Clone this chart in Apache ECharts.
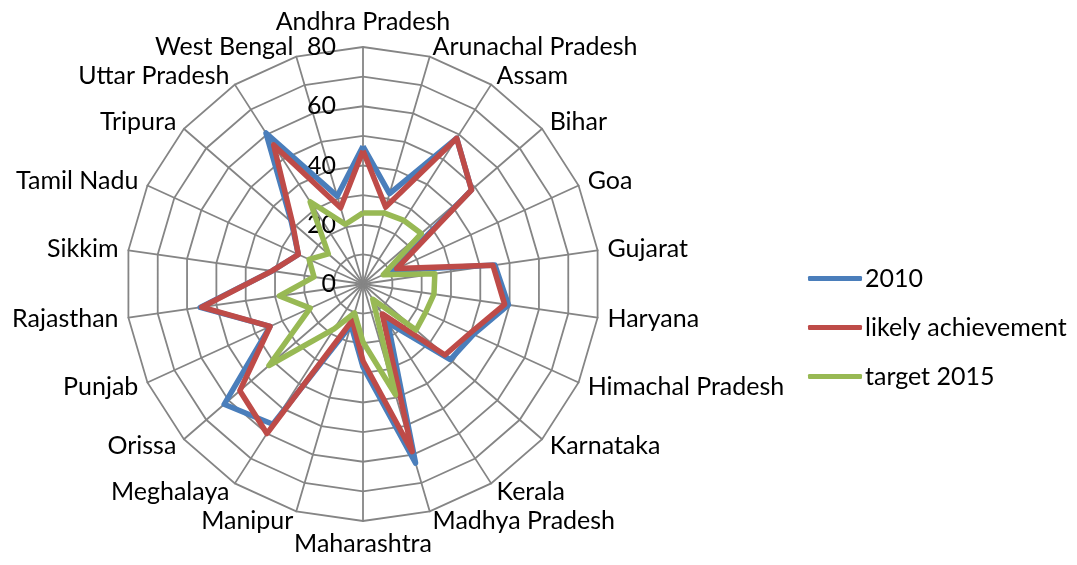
<!DOCTYPE html>
<html>
<head>
<meta charset="utf-8">
<script src="https://cdn.jsdelivr.net/npm/echarts@6/dist/echarts.min.js"></script>
<style>
  html, body { margin: 0; padding: 0; background: #fff; }
  #chart { width: 1077px; height: 565px; }
</style>
</head>
<body>
<div id="chart"></div>
<script>
const states = ['Andhra Pradesh','Arunachal Pradesh','Assam','Bihar','Goa','Gujarat','Haryana','Himachal Pradesh','Karnataka','Kerala','Madhya Pradesh','Maharashtra','Manipur','Meghalaya','Orissa','Punjab','Rajasthan','Sikkim','Tamil Nadu','Tripura','Uttar Pradesh','West Bengal'];
const values2010   = [46.5, 31.8, 58.5, 48.5, 11, 45, 49.6, 41, 39, 15.5, 63, 28, 14.4, 56.3, 62, 34.5, 55.5, 31, 24, 32, 60.6, 30.9];
const likelyAch    = [45, 27.1, 58.5, 48.5, 12.5, 44.3, 48.3, 39.8, 36.6, 12, 59, 26, 12.7, 60, 55, 34.5, 55, 31, 24, 31.5, 55.8, 26.8];
const target2015   = [24, 25, 25.5, 26, 7.5, 24.5, 24.2, 23.2, 23.7, 6.1, 39, 19.6, 10.2, 18, 42, 19.6, 28.5, 16.7, 20, 15.5, 33, 21];
const tickLabels = [0, 20, 40, 60, 80];
const seriesNames = ['2010', 'likely achievement', 'target 2015'];

// ECharts lays radar indicators counter-clockwise; reorder to get a clockwise layout
const order = [0].concat(states.slice(1).map((_, i) => states.length - 1 - i));
const reorder = arr => order.map(i => arr[i]);

const FONT = 'Lato';
const FS = 25;
const chart = echarts.init(document.getElementById('chart'), null, { renderer: 'canvas' });
chart.setOption({
  backgroundColor: '#ffffff',
  animation: false,
  legend: {
    orient: 'vertical',
    left: 803,
    top: 261,
    itemWidth: 54,
    itemHeight: 5,
    itemGap: 24,
    icon: 'roundRect',
    textStyle: { fontFamily: FONT, fontSize: FS, color: '#000', padding: [0, 0, 0, -2] },
    data: seriesNames
  },
  radar: {
    center: [363, 284],
    radius: 237,
    startAngle: 90,
    shape: 'polygon',
    splitNumber: 8,
    nameGap: 10,
    axisName: { color: '#000', fontFamily: FONT, fontSize: FS },
    indicator: reorder(states).map((s, i) => {
      const ind = { name: s, min: 0, max: 80 };
      if (i === 0) {
        ind.axisLabel = {
          show: true,
          margin: 27,
          color: '#000',
          fontFamily: FONT,
          fontSize: FS,
          formatter: v => (tickLabels.indexOf(v) >= 0 ? String(v) : '')
        };
      }
      return ind;
    }),
    axisLabel: { show: false },
    axisTick: { show: false },
    axisLine: { lineStyle: { color: '#858585', width: 1.8 } },
    splitLine: { lineStyle: { color: '#858585', width: 1.8 } },
    splitArea: { show: false }
  },
  color: ['#4A7EBB', '#BE4B48', '#98B954'],
  series: [{
    type: 'radar',
    symbol: 'none',
    data: [
      { name: seriesNames[0], value: reorder(values2010), lineStyle: { width: 5.5, color: '#4A7EBB' } },
      { name: seriesNames[1], value: reorder(likelyAch), lineStyle: { width: 5.5, color: '#BE4B48' } },
      { name: seriesNames[2], value: reorder(target2015), lineStyle: { width: 5.5, color: '#98B954' } }
    ]
  }]
});
</script>
</body>
</html>
